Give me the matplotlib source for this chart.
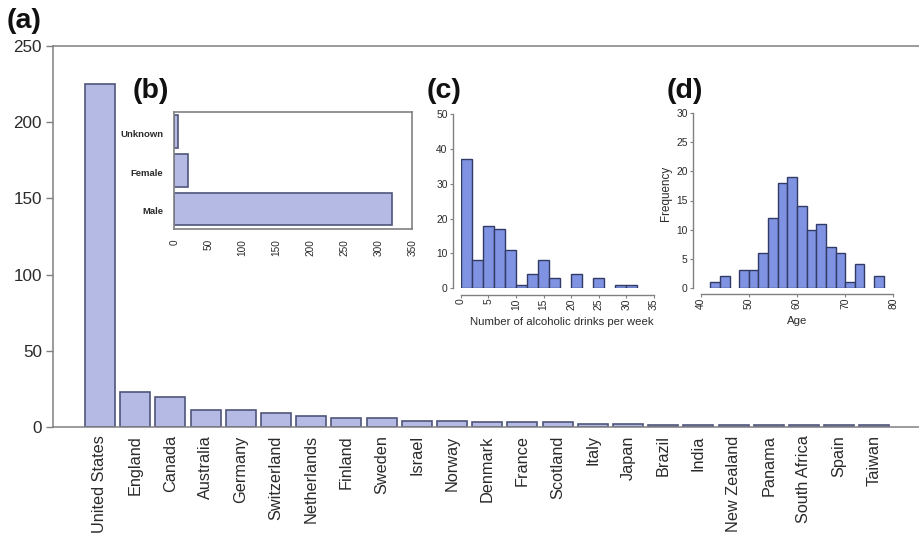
import matplotlib
matplotlib.use("Agg")
import matplotlib.pyplot as plt
from matplotlib.transforms import ScaledTranslation

# main panel: participants per country
countries = ["United States", "England", "Canada", "Australia", "Germany",
             "Switzerland", "Netherlands", "Finland", "Sweden", "Israel",
             "Norway", "Denmark", "France", "Scotland", "Italy", "Japan",
             "Brazil", "India", "New Zealand", "Panama", "South Africa",
             "Spain", "Taiwan"]
country_counts = [225, 23, 20, 11, 11, 9, 7, 6, 6, 4, 4, 3, 3, 3, 2, 2,
                  1, 1, 1, 1, 1, 1, 1]

# inset b: gender
genders = ["Male", "Female", "Unknown"]
gender_counts = [320, 20, 6]

# inset c: drinks per week, bins of 2 from 0
drink_edges = list(range(0, 34, 2))
drink_counts = [37, 8, 18, 17, 11, 1, 4, 8, 3, 0, 4, 0, 3, 0, 1, 1]

# inset d: age, bins of 2 from 42
age_edges = list(range(42, 80, 2))
age_counts = [1, 2, 0, 3, 3, 6, 12, 18, 19, 14, 10, 11, 7, 6, 1, 4, 0, 2]

W, H = 920, 538
GREY = "#808084"
EDGE = "#50557a"
LIGHT = "#b4bae4"
BLUE = "#7f93e2"
TEXT = "#2a2a2a"

plt.rcParams["font.family"] = ["Liberation Sans", "DejaVu Sans"]


def add_axes(fig, left, right, top, bottom):
    # box given in picture pixels
    return fig.add_axes([left / W, 1 - bottom / H, (right - left) / W, (bottom - top) / H])


def hist_panel(ax, edges, counts):
    for i, c in enumerate(counts):
        if c > 0:
            ax.bar(edges[i], c, width=edges[i + 1] - edges[i], align="edge",
                   color=BLUE, edgecolor="#323b66", linewidth=1.0)
    ax.spines["top"].set_visible(False)
    ax.spines["right"].set_visible(False)
    ax.spines["left"].set_color(GREY)
    ax.spines["bottom"].set_color(GREY)
    ax.spines["left"].set_linewidth(1.0)
    ax.spines["bottom"].set_linewidth(1.0)
    ax.spines["left"].set_position(("outward", 7.5 * 72 / 100))
    ax.spines["bottom"].set_position(("outward", 6.7 * 72 / 100))
    ax.tick_params(axis="both", length=2.5, width=0.8, color=GREY, labelsize=7.4,
                   labelcolor=TEXT, pad=1.5)
    ax.tick_params(axis="x", labelrotation=90, length=2, pad=0.5)
    ax.patch.set_alpha(0)


fig = plt.figure(figsize=(W / 100, H / 100), dpi=100)

# (a) countries
ax = add_axes(fig, 53, 921, 46, 427)
pos = list(range(len(countries)))
ax.bar(pos, country_counts, width=30 / 35.2, color=LIGHT, edgecolor=EDGE, linewidth=1.2)
ax.set_xlim((53 - 100) / 35.2, (921 - 100) / 35.2)
ax.set_ylim(0, 250)
ax.set_yticks([0, 50, 100, 150, 200, 250])
ax.set_xticks(pos)
ax.set_xticklabels(countries, rotation=90, fontsize=11.7, color=TEXT)
ax.tick_params(axis="x", length=0, pad=6)
ax.tick_params(axis="y", length=5, width=1.0, color=GREY, labelsize=12.3, labelcolor=TEXT, pad=3)
ax.spines["right"].set_visible(False)
for s in ["left", "top", "bottom"]:
    ax.spines[s].set_color(GREY)
    ax.spines[s].set_linewidth(1.1)

# (b) gender
axb = add_axes(fig, 174.3, 412.3, 111.7, 229.3)
axb.barh(range(3), gender_counts, height=0.85, color=LIGHT, edgecolor=EDGE, linewidth=1.2)
axb.set_xlim(0, 350)
axb.set_ylim(-0.524, 2.51)
axb.set_yticks(range(3))
axb.set_yticklabels(genders, fontsize=6.8, fontweight="bold", color=TEXT)
axb.set_xticks(range(0, 351, 50))
axb.tick_params(axis="x", labelrotation=90, labelsize=7.2, labelcolor=TEXT, length=0, pad=7)
axb.tick_params(axis="y", length=0, pad=8)
# labels sit a little below the bar centres
shift = ScaledTranslation(0, -2 / 100, fig.dpi_scale_trans)
for lab in axb.get_yticklabels():
    lab.set_transform(lab.get_transform() + shift)
for s in axb.spines.values():
    s.set_color(GREY)
    s.set_linewidth(1.2)

# (c) drinks
axc = add_axes(fig, 460.7, 654, 114, 288.3)
hist_panel(axc, drink_edges, drink_counts)
axc.set_xlim(0, 35)
axc.set_ylim(0, 50)
axc.set_xticks(range(0, 36, 5))
axc.set_yticks(range(0, 51, 10))
axc.set_xlabel("Number of alcoholic drinks per week", fontsize=8.2, color=TEXT, labelpad=5, x=0.524)

# (d) age
axd = add_axes(fig, 700.7, 893.3, 113.3, 287.7)
hist_panel(axd, age_edges, age_counts)
axd.set_xlim(40, 80)
axd.set_ylim(0, 30)
axd.set_xticks(range(40, 81, 10))
axd.set_yticks(range(0, 31, 5))
axd.set_xlabel("Age", fontsize=8.2, color=TEXT, labelpad=5)
axd.set_ylabel("Frequency", fontsize=8.4, color=TEXT, labelpad=3, y=0.54)

# panel letters
for label, px, py in [("(a)", 7, 21), ("(b)", 133, 91), ("(c)", 427, 91), ("(d)", 667, 91)]:
    fig.text(px / W, 1 - py / H, label, fontsize=20.5, fontweight="bold",
             color="#111111", va="center", ha="left")

fig.savefig("out.png", dpi=100)
